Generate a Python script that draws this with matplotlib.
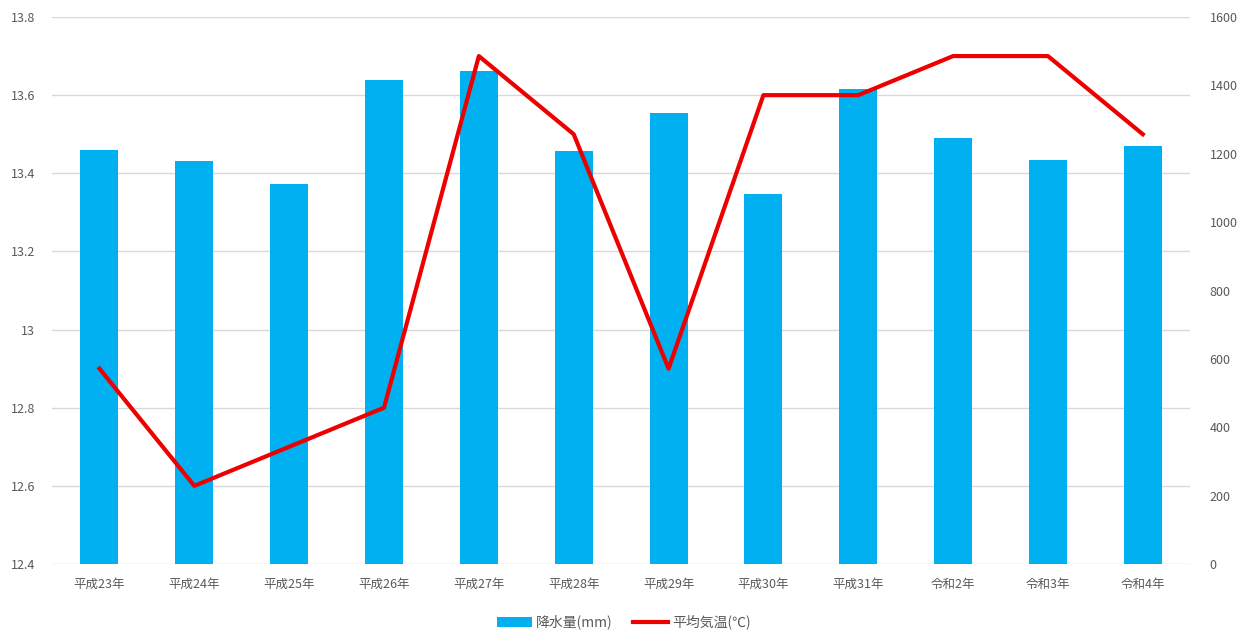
import matplotlib
matplotlib.use('Agg')
import matplotlib.pyplot as plt
from matplotlib.ticker import FuncFormatter

plt.rcParams['font.family'] = ['Noto Sans CJK JP', 'DejaVu Sans']

years = ['平成23年', '平成24年', '平成25年', '平成26年', '平成27年', '平成28年',
         '平成29年', '平成30年', '平成31年', '令和2年', '令和3年', '令和4年']
rain = [1211, 1179, 1111, 1416, 1442, 1208, 1319, 1082, 1389, 1246, 1182, 1223]
temp = [12.9, 12.6, 12.7, 12.8, 13.7, 13.5, 12.9, 13.6, 13.6, 13.7, 13.7, 13.5]
temp_ticks = [12.4, 12.6, 12.8, 13.0, 13.2, 13.4, 13.6, 13.8]

fig = plt.figure(figsize=(12.48, 6.37), dpi=100)
ax = fig.add_axes([0.0417, 0.1146, 0.912, 0.8587])
ax2 = ax.twinx()

x = range(len(years))
ax.set_ylim(12.4, 13.8)
ax2.set_ylim(0, 1600)

# bars go on the right axis, underneath the temperature line
bars = ax2.bar(x, rain, width=0.4, color='#00B0F0', zorder=2)
ax2.set_yticks(range(0, 1601, 200))
# grid follows the left (temperature) ticks but must sit behind the bars
lo, hi = ax.get_ylim()
lo2, hi2 = ax2.get_ylim()
ax2.yaxis.remove_overlapping_locs = False
ax2.set_yticks([round(lo2 + (t - lo) / (hi - lo) * (hi2 - lo2), 6) for t in temp_ticks], minor=True)
ax2.grid(axis='y', which='minor', color='#D9D9D9', lw=1)
ax2.grid(axis='y', which='major', visible=False)
ax2.set_axisbelow(True)

line, = ax.plot(x, temp, color='#EE0000', lw=3, zorder=3)
ax.set_yticks(temp_ticks)
ax.yaxis.set_major_formatter(FuncFormatter(lambda v, p: '%g' % round(v, 1)))
ax.set_xlim(-0.5, len(years) - 0.5)
ax.set_xticks(list(x))
ax.set_xticklabels(years)

ax.set_zorder(ax2.get_zorder() + 1)
ax.patch.set_visible(False)

for a in (ax, ax2):
    for s in a.spines.values():
        s.set_visible(False)
    a.tick_params(which='both', length=0, labelsize=9, labelcolor='#595959')
ax.tick_params(axis='x', pad=10)
ax.tick_params(axis='y', pad=12)
ax2.tick_params(axis='y', pad=14)

fig.legend([bars, line], ['降水量(mm)', '平均気温(℃)'], loc='lower center',
           bbox_to_anchor=(0.5, -0.008), ncol=2, frameon=False, fontsize=10,
           labelcolor='#595959', handlelength=2.5, handletextpad=0.3, columnspacing=1.5)

fig.savefig('out.png', dpi=100, facecolor='white')
